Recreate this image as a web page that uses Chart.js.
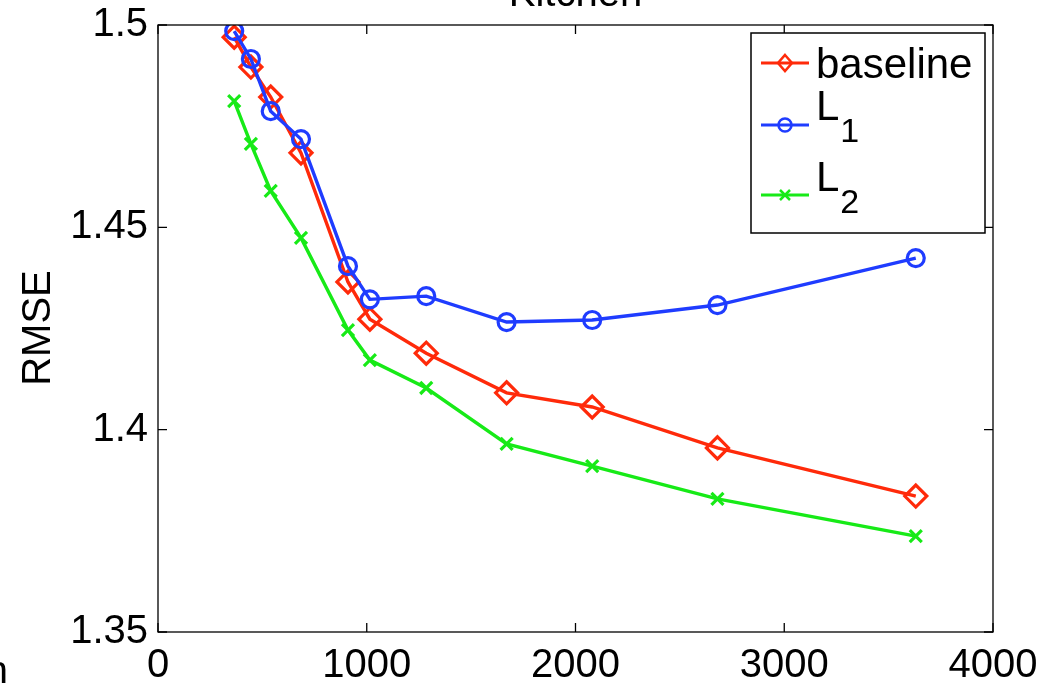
<!DOCTYPE html>
<html>
<head>
<meta charset="utf-8">
<script src="https://cdn.jsdelivr.net/npm/chart.js@4.4.0/dist/chart.umd.min.js"></script>
<style>
  html, body { margin: 0; padding: 0; background: #fff; }
  #wrap { width: 1045px; height: 683px; position: relative; }
</style>
</head>
<body>
<div id="wrap"><canvas id="chart" width="1045" height="683"></canvas></div>
<script>
// Kitchen — RMSE vs. size
const sizes = [365, 445, 540, 685, 910, 1015, 1285, 1670, 2080, 2680, 3630];
const baseline = [1.4970, 1.4896, 1.4822, 1.4684, 1.4365, 1.4273, 1.4189, 1.4091, 1.4056, 1.3955, 1.3836];
const l1 = [1.4985, 1.4916, 1.4787, 1.4718, 1.4404, 1.4322, 1.4330, 1.4266, 1.4271, 1.4308, 1.4424];
const l2 = [1.4812, 1.4706, 1.4590, 1.4474, 1.4246, 1.4172, 1.4103, 1.3965, 1.3910, 1.3829, 1.3737];
const xTicks = [0, 1000, 2000, 3000, 4000];
const yTicks = [1.35, 1.4, 1.45, 1.5];

const FONT = '"Liberation Sans", Arial, Helvetica, sans-serif';
const RED = '#ff2a0a', BLUE = '#1f3cff', GREEN = '#17ea17';

const pts = ys => sizes.map((x, i) => ({ x, y: ys[i] }));

// MATLAB-style frame, inward ticks, title, ylabel, legend
const matlabFrame = {
  id: 'matlabFrame',
  afterDraw(chart) {
    const { ctx, chartArea: a, scales } = chart;
    ctx.save();
    ctx.strokeStyle = '#000';
    ctx.lineWidth = 1.3;
    ctx.strokeRect(a.left, a.top, a.right - a.left, a.bottom - a.top);

    const tl = 9;
    ctx.beginPath();
    xTicks.forEach(v => {
      const px = scales.x.getPixelForValue(v);
      ctx.moveTo(px, a.bottom); ctx.lineTo(px, a.bottom - tl);
      ctx.moveTo(px, a.top); ctx.lineTo(px, a.top + tl);
    });
    yTicks.forEach(v => {
      const py = scales.y.getPixelForValue(v);
      ctx.moveTo(a.left, py); ctx.lineTo(a.left + tl, py);
      ctx.moveTo(a.right, py); ctx.lineTo(a.right - tl, py);
    });
    ctx.stroke();

    // title (cut off at the top edge)
    ctx.fillStyle = '#000';
    ctx.font = '40px ' + FONT;
    ctx.textAlign = 'center';
    ctx.textBaseline = 'alphabetic';
    ctx.fillText('Kitchen', (a.left + a.right) / 2, 6);

    // stray label from neighbouring panel
    ctx.textAlign = 'right';
    ctx.fillText('n', 8, 684);

    // y label
    ctx.save();
    ctx.translate(50, 328);
    ctx.rotate(-Math.PI / 2);
    ctx.textAlign = 'center';
    ctx.textBaseline = 'alphabetic';
    ctx.fillText('RMSE', 0, 0);
    ctx.restore();

    // legend
    const lx = 751, ly = 33, lw = 234, lh = 200;
    ctx.fillStyle = '#fff';
    ctx.fillRect(lx, ly, lw, lh);
    ctx.lineWidth = 1.5;
    ctx.strokeStyle = '#000';
    ctx.strokeRect(lx, ly, lw, lh);

    const rows = [
      { y: 63, color: RED, marker: 'diamond', text: 'baseline', sub: null, base: 78 },
      { y: 125, color: BLUE, marker: 'circle', text: 'L', sub: '1', base: 120 },
      { y: 195, color: GREEN, marker: 'cross', text: 'L', sub: '2', base: 191 }
    ];
    rows.forEach(r => {
      ctx.strokeStyle = r.color;
      ctx.lineWidth = 3;
      ctx.beginPath();
      ctx.moveTo(761, r.y); ctx.lineTo(809, r.y);
      ctx.stroke();
      const cx = 785, cy = r.y;
      ctx.lineWidth = 2.5;
      ctx.beginPath();
      if (r.marker === 'diamond') {
        ctx.moveTo(cx, cy - 8); ctx.lineTo(cx + 7, cy); ctx.lineTo(cx, cy + 8); ctx.lineTo(cx - 7, cy); ctx.closePath();
      } else if (r.marker === 'circle') {
        ctx.arc(cx, cy, 6.5, 0, Math.PI * 2);
      } else {
        ctx.moveTo(cx - 5, cy - 5); ctx.lineTo(cx + 5, cy + 5);
        ctx.moveTo(cx + 5, cy - 5); ctx.lineTo(cx - 5, cy + 5);
      }
      ctx.stroke();

      ctx.fillStyle = '#000';
      ctx.textAlign = 'left';
      ctx.textBaseline = 'alphabetic';
      ctx.font = '42px ' + FONT;
      ctx.fillText(r.text, 816, r.base);
      if (r.sub) {
        const w = ctx.measureText(r.text).width;
        ctx.font = '34px ' + FONT;
        ctx.fillText(r.sub, 816 + w + 1, r.base + 22);
      }
    });
    ctx.restore();
  }
};

const series = (label, data, color, style, radius, order) => ({
  label, data: pts(data),
  borderColor: color, backgroundColor: 'transparent',
  borderWidth: 3.4,
  pointStyle: style, pointRadius: radius, pointHoverRadius: radius,
  pointBorderColor: color, pointBackgroundColor: 'transparent',
  pointBorderWidth: 3.2,
  tension: 0, order
});

new Chart(document.getElementById('chart'), {
  type: 'line',
  data: {
    datasets: [
      series('L1', l1, BLUE, 'circle', 8.5, 0),
      series('baseline', baseline, RED, 'rectRot', 11, 1),
      series('L2', l2, GREEN, 'crossRot', 8.5, 2)
    ]
  },
  options: {
    responsive: false,
    animation: false,
    layout: { padding: { top: 25, right: 52, left: 0, bottom: 0 } },
    plugins: { legend: { display: false }, tooltip: { enabled: false }, title: { display: false } },
    scales: {
      x: {
        type: 'linear', min: 0, max: 4000,
        afterFit: s => { s.height = 51; s.paddingLeft = 0; s.paddingRight = 0; },
        afterBuildTicks: s => { s.ticks = xTicks.map(v => ({ value: v })); },
        grid: { display: false, drawTicks: false },
        border: { display: false },
        ticks: { color: '#000', font: { family: FONT, size: 40 }, padding: 10, maxRotation: 0, autoSkip: false,
                  callback: v => String(v) }
      },
      y: {
        type: 'linear', min: 1.35, max: 1.5,
        afterFit: s => { s.width = 158; s.paddingTop = 0; s.paddingBottom = 0; },
        afterBuildTicks: s => { s.ticks = yTicks.map(v => ({ value: v })); },
        grid: { display: false, drawTicks: false },
        border: { display: false },
        ticks: { color: '#000', font: { family: FONT, size: 40 }, padding: 10, autoSkip: false,
                 callback: v => String(Math.round(v * 100) / 100) }
      }
    }
  },
  plugins: [matlabFrame]
});
</script>
</body>
</html>
